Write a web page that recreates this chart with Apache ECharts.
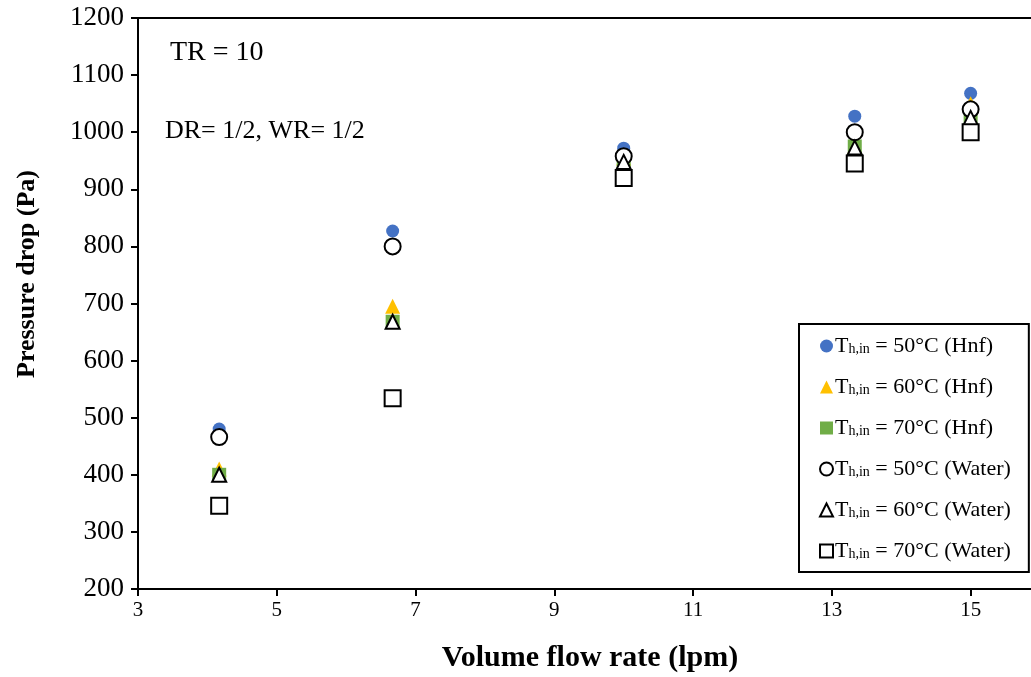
<!DOCTYPE html>
<html>
<head>
<meta charset="utf-8">
<script src="https://cdn.jsdelivr.net/npm/echarts@6/dist/echarts.min.js"></script>
<style>
  html, body { margin: 0; padding: 0; background: #fff; }
  #chart { width: 1031px; height: 677px; }
</style>
</head>
<body>
<div id="chart"></div>
<script>
// Volume flow rate (lpm) at which pressure drop was measured
const flowRates = [4.17, 6.67, 10, 13.33, 15];

// Pressure drop (Pa) for each inlet temperature and fluid
const hnf50 = [480, 827, 972, 1028, 1068];
const hnf60 = [410, 695, 955, 975, 1050];
const hnf70 = [400, 668, 950, 975, 1025];
const water50 = [466, 800, 958, 1000, 1040];
const water60 = [400, 668, 948, 973, 1025];
const water70 = [346, 534, 920, 945, 1000];

// Tick positions along the flow-rate axis
const xTicks = [3, 5, 7, 9, 11, 13, 15];

const seriesNames = [
  '50°C (Hnf)', '60°C (Hnf)', '70°C (Hnf)',
  '50°C (Water)', '60°C (Water)', '70°C (Water)'
];

const serif = '"Liberation Serif", "Times New Roman", serif';

function pairs(values) {
  return flowRates.map((x, i) => [x, values[i]]);
}

function scatter(name, values, symbol, size, fill, stroke) {
  return {
    name: name,
    type: 'scatter',
    data: pairs(values),
    symbol: symbol,
    symbolSize: size,
    itemStyle: stroke
      ? { color: '#fff', borderColor: stroke, borderWidth: 2, opacity: 1 }
      : { color: fill, opacity: 1 },
    emphasis: { disabled: true },
    z: stroke ? 3 : 2
  };
}

const chart = echarts.init(document.getElementById('chart'), null, { renderer: 'canvas' });

// the plot area runs on to the right edge of the page
chart.setOption({
  animation: false,
  backgroundColor: '#fff',
  grid: { left: 138, top: 18, right: 0, bottom: 88, containLabel: false },
  xAxis: [{
    type: 'value',
    min: 3, max: 15.87,
    axisLine: { show: true, onZero: false, lineStyle: { color: '#000', width: 2 } },
    axisTick: { show: true, length: 7, customValues: xTicks, lineStyle: { color: '#000', width: 2 } },
    axisLabel: { margin: 11, fontFamily: serif, fontSize: 21, color: '#000', customValues: xTicks },
    splitLine: { show: false }
  }, {
    type: 'value',
    position: 'top',
    min: 3, max: 15.87,
    axisLine: { show: true, onZero: false, lineStyle: { color: '#000', width: 2 } },
    axisTick: { show: false },
    axisLabel: { show: false },
    splitLine: { show: false }
  }],
  yAxis: {
    type: 'value',
    min: 200, max: 1200, interval: 100,
    axisLine: { show: true, onZero: false, lineStyle: { color: '#000', width: 2 } },
    axisTick: { show: true, length: 7, lineStyle: { color: '#000', width: 2 } },
    axisLabel: {
      margin: 14, fontFamily: serif, fontSize: 27, color: '#000',
      formatter: function (v) { return String(v); }
    },
    splitLine: { show: false }
  },
  legend: {
    orient: 'vertical',
    left: 799,
    top: 324,
    padding: [11, 18, 10, 20],
    itemGap: 19,
    itemWidth: 13,
    itemHeight: 13,
    backgroundColor: '#fff',
    borderColor: '#000',
    borderWidth: 2,
    data: seriesNames,
    formatter: function (name) {
      return '{t|T}{s|h,in}{t| = ' + name + '}';
    },
    textStyle: {
      fontFamily: serif,
      fontSize: 22,
      color: '#000',
      padding: [0, 0, 0, -3],
      rich: {
        t: { fontFamily: serif, fontSize: 22, color: '#000', lineHeight: 20, verticalAlign: 'middle' },
        s: { fontFamily: serif, fontSize: 14, color: '#000', lineHeight: 12, verticalAlign: 'bottom' }
      }
    }
  },
  graphic: [
    { type: 'text', left: 170, top: 39, style: { text: 'TR = 10', font: '28px ' + serif, fill: '#000' } },
    { type: 'text', left: 165, top: 118, style: { text: 'DR= 1/2, WR= 1/2', font: '26px ' + serif, fill: '#000' } },
    {
      type: 'text', x: 590, y: 658,
      style: { text: 'Volume flow rate (lpm)', font: 'bold 30px ' + serif, fill: '#000', align: 'center', verticalAlign: 'middle' }
    },
    {
      type: 'text', x: 27, y: 274, rotation: Math.PI / 2,
      style: { text: 'Pressure drop (Pa)', font: 'bold 26px ' + serif, fill: '#000', align: 'center', verticalAlign: 'middle' }
    }
  ],
  series: [
    scatter(seriesNames[0], hnf50, 'circle', 13, '#4472C4'),
    scatter(seriesNames[1], hnf60, 'triangle', 15, '#FFC000'),
    scatter(seriesNames[2], hnf70, 'rect', 14, '#70AD47'),
    scatter(seriesNames[3], water50, 'circle', 16, null, '#000'),
    scatter(seriesNames[4], water60, 'triangle', 14, null, '#000'),
    scatter(seriesNames[5], water70, 'rect', 16, null, '#000')
  ]
});
</script>
</body>
</html>
